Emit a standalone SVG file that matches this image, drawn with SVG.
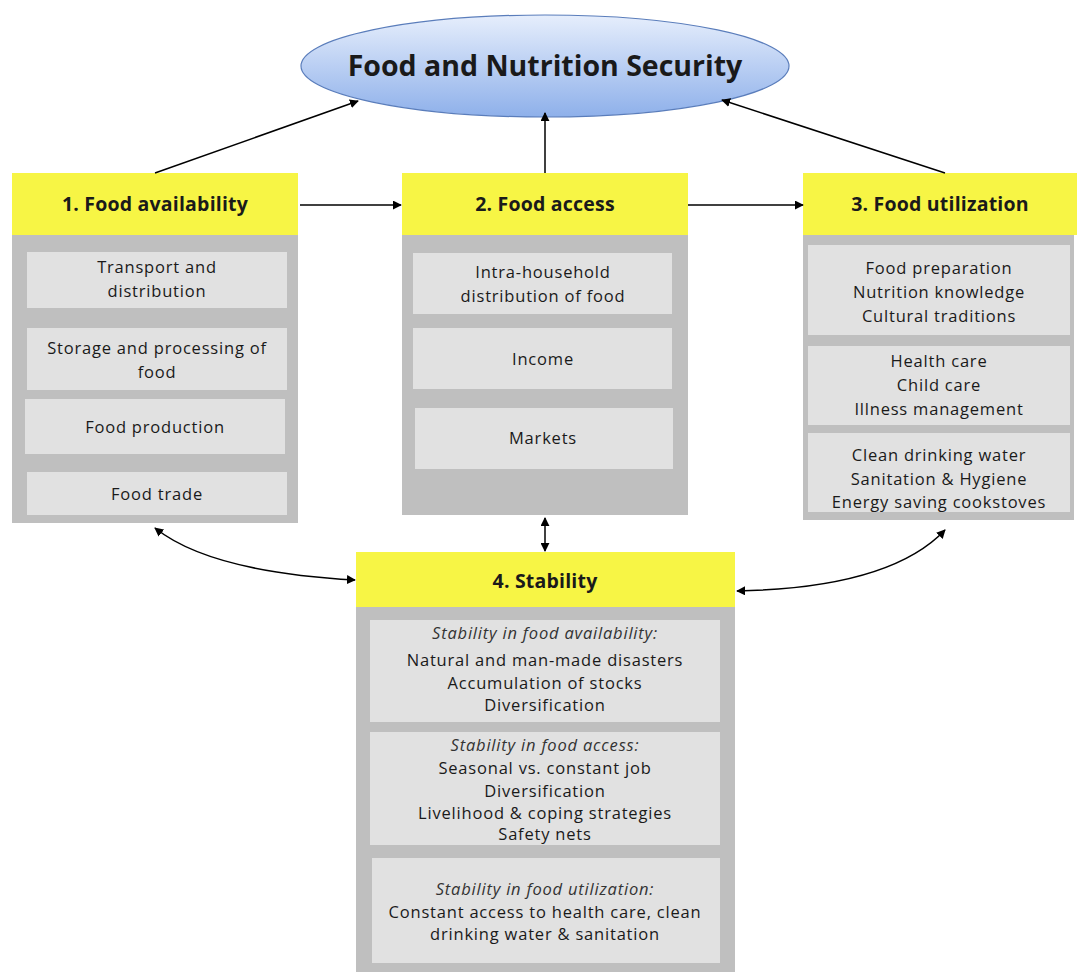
<svg xmlns="http://www.w3.org/2000/svg" width="1077" height="972" viewBox="0 0 1077 972">
<defs>
<linearGradient id="eg" x1="0" y1="0" x2="0" y2="1">
<stop offset="0" stop-color="#e6eefc"/>
<stop offset="1" stop-color="#8eb0ea"/>
</linearGradient>
<marker id="ah" viewBox="0 0 10 10" refX="9" refY="5" markerWidth="9" markerHeight="9" markerUnits="userSpaceOnUse" orient="auto-start-reverse">
<path d="M0,0 L10,5 L0,10 z" fill="#000"/>
</marker>
<style>
.hdr{fill:#f7f545}
.outer{fill:#bfbfbf}
.inner{fill:#e1e1e1}
text{font-family:"Open Sans","Liberation Sans",sans-serif;fill:#1a1a1a;text-anchor:middle}
.ht{font-size:19.5px;font-weight:bold;letter-spacing:0.2px}
.t{font-size:16.5px;letter-spacing:0.8px}
.i{font-size:16.5px;font-style:italic;fill:#333;letter-spacing:0.8px}
.c{fill:none;stroke:#000;stroke-width:1.5;marker-end:url(#ah)}
.d{fill:none;stroke:#000;stroke-width:1.5;marker-end:url(#ah);marker-start:url(#ah)}
</style>
</defs>
<rect width="1077" height="972" fill="#fff"/>

<g id="goal">
<ellipse cx="545" cy="66" rx="244" ry="51" fill="url(#eg)" stroke="#5a7dbb" stroke-width="1.2"/>
<text x="545" y="76" style="font-size:28.5px;font-weight:bold">Food and Nutrition Security</text>
</g>

<g id="availability">
<rect class="outer" x="12" y="173" width="286" height="350"/>
<rect class="hdr" x="12" y="173" width="286" height="62"/>
<text class="ht" x="155" y="211">1. Food availability</text>
<rect class="inner" x="27" y="252" width="260" height="56"/>
<text class="t" x="157" y="273">Transport and</text>
<text class="t" x="157" y="297">distribution</text>
<rect class="inner" x="27" y="328" width="260" height="62"/>
<text class="t" x="157" y="354">Storage and processing of</text>
<text class="t" x="157" y="378">food</text>
<rect class="inner" x="25" y="399" width="260" height="55"/>
<text class="t" x="155" y="433">Food production</text>
<rect class="inner" x="27" y="472" width="260" height="43"/>
<text class="t" x="157" y="500">Food trade</text>
</g>

<g id="access">
<rect class="outer" x="402" y="173" width="286" height="342"/>
<rect class="hdr" x="402" y="173" width="286" height="62"/>
<text class="ht" x="545" y="211">2. Food access</text>
<rect class="inner" x="413" y="253" width="259" height="61"/>
<text class="t" x="543" y="278">Intra-household</text>
<text class="t" x="543" y="302">distribution of food</text>
<rect class="inner" x="413" y="328" width="259" height="61"/>
<text class="t" x="543" y="365">Income</text>
<rect class="inner" x="415" y="408" width="258" height="61"/>
<text class="t" x="543" y="444">Markets</text>
</g>

<g id="utilization">
<rect class="outer" x="803" y="173" width="271" height="347"/>
<rect class="hdr" x="803" y="173" width="274" height="62"/>
<text class="ht" x="940" y="211">3. Food utilization</text>
<rect class="inner" x="808" y="245" width="262" height="90"/>
<text class="t" x="939" y="274">Food preparation</text>
<text class="t" x="939" y="298">Nutrition knowledge</text>
<text class="t" x="939" y="322">Cultural traditions</text>
<rect class="inner" x="808" y="346" width="262" height="79"/>
<text class="t" x="939" y="367">Health care</text>
<text class="t" x="939" y="391">Child care</text>
<text class="t" x="939" y="415">Illness management</text>
<rect class="inner" x="808" y="433" width="262" height="79"/>
<text class="t" x="939" y="461">Clean drinking water</text>
<text class="t" x="939" y="485">Sanitation &amp; Hygiene</text>
<text class="t" x="939" y="508">Energy saving cookstoves</text>
</g>

<g id="stability">
<rect class="outer" x="356" y="552" width="379" height="420"/>
<rect class="hdr" x="356" y="552" width="379" height="55"/>
<text class="ht" x="545" y="588">4. Stability</text>
<rect class="inner" x="370" y="620" width="350" height="102"/>
<text class="i" x="545" y="639">Stability in food availability:</text>
<text class="t" x="545" y="666">Natural and man-made disasters</text>
<text class="t" x="545" y="689">Accumulation of stocks</text>
<text class="t" x="545" y="711">Diversification</text>
<rect class="inner" x="370" y="732" width="350" height="113"/>
<text class="i" x="545" y="751">Stability in food access:</text>
<text class="t" x="545" y="774">Seasonal vs. constant job</text>
<text class="t" x="545" y="797">Diversification</text>
<text class="t" x="545" y="819">Livelihood &amp; coping strategies</text>
<text class="t" x="545" y="840">Safety nets</text>
<rect class="inner" x="372" y="858" width="348" height="105"/>
<text class="i" x="545" y="895">Stability in food utilization:</text>
<text class="t" x="545" y="918">Constant access to health care, clean</text>
<text class="t" x="545" y="940">drinking water &amp; sanitation</text>
</g>

<g id="connectors">
<line class="c" x1="155" y1="173" x2="358" y2="101"/>
<line class="c" x1="545" y1="173" x2="545" y2="113"/>
<line class="c" x1="945" y1="173" x2="722" y2="100"/>
<line class="c" x1="300" y1="205" x2="401" y2="205"/>
<line class="c" x1="688" y1="205" x2="803" y2="205"/>
<line class="d" x1="545" y1="518" x2="545" y2="551"/>
<path class="d" d="M155,528 Q210,572 355,580"/>
<path class="d" d="M945,530 Q890,588 737,591"/>
</g>
</svg>
